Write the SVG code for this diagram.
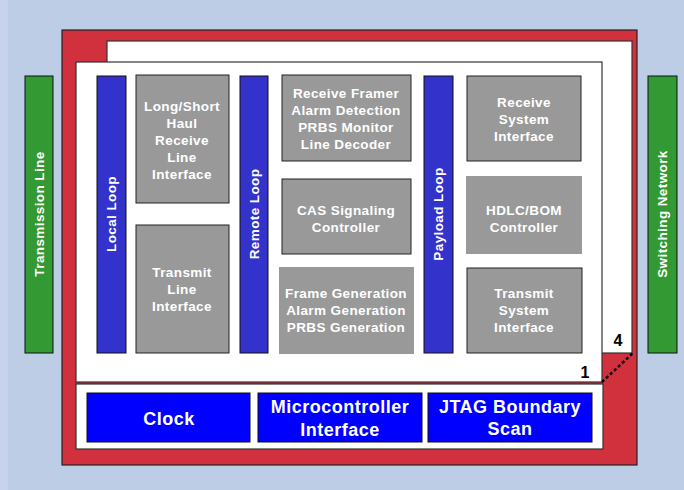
<svg xmlns="http://www.w3.org/2000/svg" width="684" height="490" viewBox="0 0 684 490">
<style>
.g{fill:#999999;stroke:#222;stroke-width:1}
.gn{fill:#999999;stroke:none}
.lp{fill:#3333CC;stroke:#111;stroke-width:1}
.gr{fill:#339933;stroke:#111;stroke-width:1}
.bb{fill:#0000FF;stroke:#111;stroke-width:1}
.pn{fill:#FFFFFF;stroke:#333;stroke-width:1.2}
text{font-family:"Liberation Sans",Arial,sans-serif;font-weight:bold;fill:#FFFFFF;text-anchor:middle}
.t{font-size:13.5px;letter-spacing:0.4px}
.b{font-size:18px;letter-spacing:0.5px}
.n{font-size:16px;fill:#000}
</style>
<rect x="0" y="0" width="684" height="490" fill="#BECDE6"/>
<rect x="0" y="0" width="8" height="490" fill="#C6D3EA"/>
<g id="chip">
<rect x="62" y="30" width="575" height="435" fill="#D0313D" stroke="#222" stroke-width="1.2"/>
<rect class="pn" x="107" y="41" width="525" height="312"/>
<rect class="pn" x="76" y="62" width="526" height="320"/>
<rect class="pn" x="76" y="384" width="527" height="65"/>
<text class="n" x="618" y="346">4</text>
<text class="n" x="585" y="378">1</text>
</g>
<g id="connectors">
<line x1="602" y1="382" x2="633" y2="353" stroke="#000" stroke-width="2.5" stroke-dasharray="3,2.5"/>
</g>
<g id="transmission-line">
<rect class="gr" x="25" y="76" width="28" height="277"/>
<text class="t" transform="translate(44,214) rotate(-90)">Transmission Line</text>
</g>
<g id="switching-network">
<rect class="gr" x="648" y="76" width="29" height="277"/>
<text class="t" transform="translate(667,214) rotate(-90)">Switching Network</text>
</g>
<g id="local-loop">
<rect class="lp" x="97" y="76" width="29" height="277"/>
<text class="t" transform="translate(116,214) rotate(-90)">Local Loop</text>
</g>
<g id="remote-loop">
<rect class="lp" x="240" y="76" width="28" height="277"/>
<text class="t" transform="translate(259,214) rotate(-90)">Remote Loop</text>
</g>
<g id="payload-loop">
<rect class="lp" x="424" y="76" width="29" height="277"/>
<text class="t" transform="translate(443,214) rotate(-90)">Payload Loop</text>
</g>
<g id="rx-line">
<rect class="g" x="136" y="75" width="93" height="128"/>
<text class="t" x="182" y="111">Long/Short</text>
<text class="t" x="182" y="128">Haul</text>
<text class="t" x="182" y="145">Receive</text>
<text class="t" x="182" y="162">Line</text>
<text class="t" x="182" y="179">Interface</text>
</g>
<g id="tx-line">
<rect class="g" x="136" y="225" width="93" height="128"/>
<text class="t" x="182" y="277">Transmit</text>
<text class="t" x="182" y="294">Line</text>
<text class="t" x="182" y="311">Interface</text>
</g>
<g id="rx-framer">
<rect class="g" x="282" y="75" width="129" height="86"/>
<text class="t" x="346" y="98">Receive Framer</text>
<text class="t" x="346" y="115">Alarm Detection</text>
<text class="t" x="346" y="132">PRBS Monitor</text>
<text class="t" x="346" y="149">Line Decoder</text>
</g>
<g id="cas">
<rect class="g" x="282" y="179" width="129" height="75"/>
<text class="t" x="346" y="215">CAS Signaling</text>
<text class="t" x="346" y="232">Controller</text>
</g>
<g id="frame-gen">
<rect class="gn" x="279" y="267" width="135" height="87"/>
<text class="t" x="346" y="298">Frame Generation</text>
<text class="t" x="346" y="315">Alarm Generation</text>
<text class="t" x="346" y="332">PRBS Generation</text>
</g>
<g id="rx-system">
<rect class="g" x="467" y="76" width="114" height="85"/>
<text class="t" x="524" y="107">Receive</text>
<text class="t" x="524" y="124">System</text>
<text class="t" x="524" y="141">Interface</text>
</g>
<g id="hdlc">
<rect class="gn" x="466" y="176" width="116" height="78"/>
<text class="t" x="524" y="215">HDLC/BOM</text>
<text class="t" x="524" y="232">Controller</text>
</g>
<g id="tx-system">
<rect class="g" x="467" y="268" width="115" height="85"/>
<text class="t" x="524" y="298">Transmit</text>
<text class="t" x="524" y="315">System</text>
<text class="t" x="524" y="332">Interface</text>
</g>
<g id="clock">
<rect class="bb" x="87" y="393" width="163" height="49"/>
<text class="b" x="169" y="425">Clock</text>
</g>
<g id="micro">
<rect class="bb" x="258" y="393" width="164" height="49"/>
<text class="b" x="340" y="413">Microcontroller</text>
<text class="b" x="340" y="436">Interface</text>
</g>
<g id="jtag">
<rect class="bb" x="428" y="393" width="164" height="49"/>
<text class="b" x="510" y="413">JTAG Boundary</text>
<text class="b" x="510" y="435">Scan</text>
</g>
</svg>
